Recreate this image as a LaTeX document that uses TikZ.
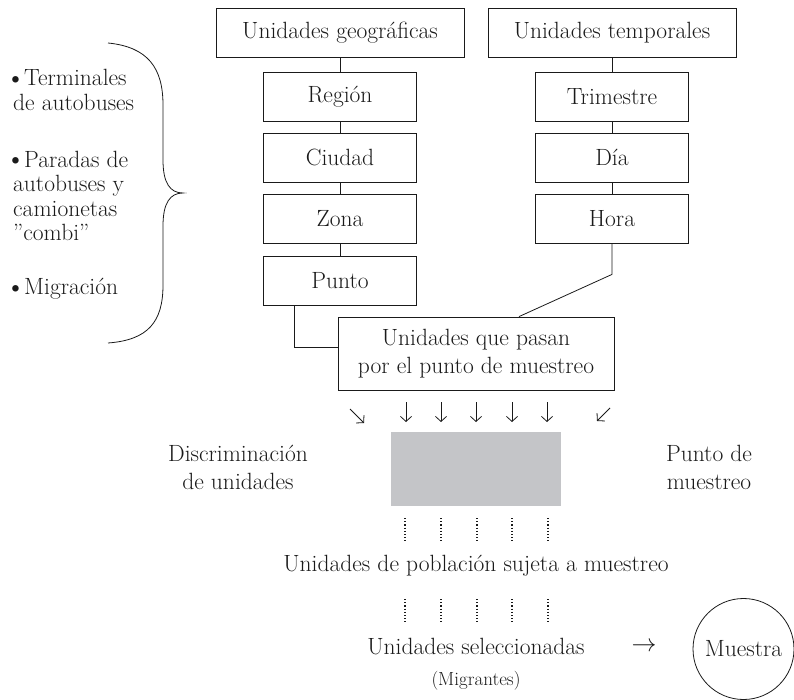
\documentclass[tikz,border=0pt]{standalone}
\usepackage{fontspec}
\usetikzlibrary{arrows.meta}
\definecolor{ink}{HTML}{1A1A1A}
\definecolor{boxgray}{HTML}{C4C5C8}
\begin{document}
\begin{tikzpicture}[x=1pt,y=-1pt,
  every node/.style={font=\fontsize{23.5}{28}\selectfont, text=ink},
  bigbox/.style={draw=ink, line width=0.8pt, minimum width=248pt, minimum height=49pt, inner sep=0pt},
  smallbox/.style={draw=ink, line width=0.8pt, minimum width=153pt, minimum height=49pt, inner sep=0pt},
  link/.style={draw=ink, line width=0.8pt},
  flow/.style={draw=ink, line width=0.8pt, -{Straight Barb[length=5pt,width=11pt,line width=0.8pt]}},
  dots/.style={draw=ink, line width=1.4pt, dash pattern=on 1.2pt off 2pt},
  lefttext/.style={anchor=west, align=left, inner sep=0pt, font=\fontsize{23.5}{24.5}\selectfont}
]
\useasboundingbox (0,0) rectangle (794,700);

% left column
\newcommand{\itembul}{\makebox[19pt][l]{\raisebox{-1.5pt}{\fontsize{29}{29}\selectfont\textbullet}}}
\node[lefttext] (t1) at (5,90) {\itembul Terminales\\\hspace*{8pt}de autobuses};
\node[lefttext] (t2) at (5,196) {\itembul Paradas de\\\hspace*{8pt}autobuses y\\\hspace*{8pt}camionetas\\\hspace*{8pt}''combi''};
\node[lefttext] (t3) at (5,289) {\itembul Migración};
\draw[link] (108,43) .. controls (148,47) and (163,68) .. (163,105)
  -- (163,160) .. controls (163,183) and (170,193) .. (183,193)
  .. controls (170,193) and (163,203) .. (163,226)
  -- (163,285) .. controls (163,322) and (148,340) .. (108,343);

% top boxes
\node[bigbox] (geo) at (340,32.5) {Unidades geográficas};
\node[bigbox] (tem) at (612,32.5) {Unidades temporales};
\node[smallbox] (reg) at (340,96.5) {Región};
\node[smallbox] (ciu) at (340,157.5) {Ciudad};
\node[smallbox] (zon) at (340,218.5) {Zona};
\node[smallbox] (pun) at (340,280.5) {Punto};
\node[smallbox] (tri) at (612,96.5) {Trimestre};
\node[smallbox] (dia) at (612,157.5) {Día};
\node[smallbox] (hor) at (612,218.5) {Hora};
\node[draw=ink, line width=0.8pt, minimum width=276pt, minimum height=73pt, inner sep=0pt, align=center] (upp) at (476,353.5) {Unidades que pasan\\por el punto de muestreo};

\draw[link] (geo) -- (reg);
\draw[link] (reg) -- (ciu);
\draw[link] (ciu) -- (zon);
\draw[link] (zon) -- (pun);
\draw[link] (tem) -- (tri);
\draw[link] (tri) -- (dia);
\draw[link] (dia) -- (hor);
\draw[link] ([xshift=-46pt]pun.south) |- ([yshift=6.5pt]upp.west);
\draw[link] (hor.south) -- ([yshift=-31pt]hor.south) -- ([xshift=43pt]upp.north);

% arrows into the sampling point
\foreach \x in {406,441,476,512,547} {
  \draw[flow] (\x,402) -- (\x,422);
}
\draw[flow] (350,409) -- (364,423);
\draw[flow] (610,408) -- (597,421);

% gray sampling point
\node[fill=boxgray, minimum width=170pt, minimum height=74pt, inner sep=0pt] (gray) at (476,469) {};
\node[align=center] (disc) at (238,467) {Discriminación\\de unidades};
\node[align=center] (pdm) at (709,467) {Punto de\\muestreo};

% dotted rows
\foreach \x in {405,441,477,512,548} {
  \draw[dots] (\x,518) -- (\x,541);
  \draw[dots] (\x,599) -- (\x,622);
}
\node (pob) at (476,566) {Unidades de población sujeta a muestreo};
\node (sel) at (476,647) {Unidades seleccionadas};
\node[font=\fontsize{19}{22}\selectfont] (mig) at (476,681) {(Migrantes)};
\node (arr) at (644,647) {$\rightarrow$};
\node[draw=ink, line width=0.8pt, circle, minimum size=101pt, inner sep=0pt] (mue) at (743.5,649) {Muestra};
\end{tikzpicture}
\end{document}
